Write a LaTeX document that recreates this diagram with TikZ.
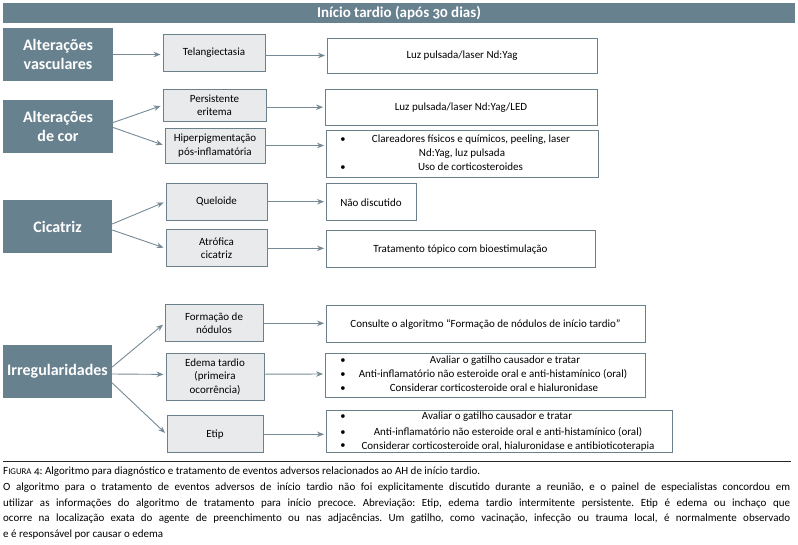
\documentclass[tikz,border=0pt]{standalone}
\usepackage{fontspec}
\setmainfont{Carlito}[Numbers=OldStyle]
\usetikzlibrary{arrows.meta}
\definecolor{slate}{RGB}{104,129,143}
\definecolor{midfill}{RGB}{233,234,236}
\definecolor{bord}{RGB}{108,128,140}
\definecolor{arr}{RGB}{118,138,150}
\frenchspacing
\begin{document}
\begin{tikzpicture}[x=1pt,y=-1pt,
  lbox/.style={fill=slate, text=white, font=\fontsize{16}{18.5}\selectfont\bfseries, align=center, inner sep=0},
  mbox/.style={draw=bord, fill=midfill, line width=0.9pt, font=\fontsize{11}{13.5}\selectfont, align=center, inner sep=0},
  rbox/.style={draw=bord, fill=white, line width=0.9pt, font=\fontsize{11}{13.5}\selectfont, align=center, inner sep=0},
  txt/.style={inner sep=0, font=\fontsize{11}{13.5}\selectfont, text height=7.5pt, text depth=2.2pt},
  bul/.style={inner sep=0, font=\fontsize{10.5}{11}\selectfont, text height=6.5pt, text depth=1pt},
  conn/.style={draw=arr, line width=0.9pt, -{Stealth[length=7pt,width=5.5pt]}, shorten >=2pt},
  capline/.style={anchor=base west, inner sep=0, font=\fontsize{11}{15.8}\selectfont\frenchspacing}
]
\useasboundingbox (0,0) rectangle (798,544);

\node[fill=slate, minimum width=792pt, minimum height=20pt, text=white, inner sep=0,
  font=\fontsize{15}{16}\selectfont\bfseries] (hdr) at (399,13) {Início tardio (após 30 dias)};

% left boxes
\node[lbox, minimum width=110pt, minimum height=53pt] (av) at (58,54.5) {Alterações\\vasculares};
\node[lbox, minimum width=110pt, minimum height=53pt] (ac) at (58,126.5) {Alterações\\de cor};
\node[lbox, minimum width=109pt, minimum height=53pt] (ci) at (57.5,226.5) {Cicatriz};
\node[lbox, minimum width=109pt, minimum height=53pt] (ir) at (57.5,371.5) {Irregularidades};

% middle boxes
\node[mbox, minimum width=102pt, minimum height=37pt] (tel) at (214,52.5) {Telangiectasia};
\node[mbox, minimum width=103pt, minimum height=32pt] (pe) at (214.5,105.3) {Persistente\\eritema};
\node[mbox, minimum width=100pt, minimum height=35pt] (hp) at (215,145.5) {Hiperpigmentação\\pós-inflamatória};
\node[mbox, minimum width=101pt, minimum height=37pt] (qu) at (216.5,201.7) {Queloide};
\node[mbox, minimum width=101pt, minimum height=37pt] (atr) at (216.5,248.3) {Atrófica\\cicatriz};
\node[mbox, minimum width=98pt, minimum height=37pt] (fn) at (214,323.3) {Formação de\\nódulos};
\node[mbox, minimum width=98pt, minimum height=47pt] (ed) at (215,376.7) {Edema tardio\\(primeira\\ocorrência)};
\node[mbox, minimum width=96pt, minimum height=37pt] (et) at (215,434.3) {Etip};

% right boxes
\node[rbox, minimum width=270pt, minimum height=35pt] (lp) at (462,55.5) {Luz pulsada/laser Nd:Yag};
\node[rbox, minimum width=272pt, minimum height=36pt] (lpl) at (461,107.2) {Luz pulsada/laser Nd:Yag/LED};
\node[rbox, minimum width=272pt, minimum height=47pt] (cl) at (462,153.7) {};
\node[rbox, minimum width=90pt, minimum height=37pt] (nd) at (371,202.3) {Não discutido};
\node[rbox, minimum width=269pt, minimum height=37pt] (tt) at (460.5,249.3) {Tratamento tópico com bioestimulação};
\node[rbox, minimum width=319pt, minimum height=37.5pt] (co) at (485.5,324) {Consulte o algoritmo “Formação de nódulos de início tardio”};
\node[rbox, minimum width=320pt, minimum height=44.5pt] (el) at (485,375.5) {};
\node[rbox, minimum width=346pt, minimum height=42.7pt] (tl) at (499,431.3) {};

% list contents
\node[bul] (clb1) at (343,140) {•};
\node[bul] (clb2) at (343,168) {•};
\node[txt] (cl1) at (471,140) {Clareadores físicos e químicos, peeling, laser};
\node[txt] (cl2) at (462,154) {Nd:Yag, luz pulsada};
\node[txt] (cl3) at (470.5,168) {Uso de corticosteroides};

\node[bul] (elb1) at (343,361) {•};
\node[bul] (elb2) at (343,375) {•};
\node[bul] (elb3) at (343,389) {•};
\node[txt] (el1) at (505,361) {Avaliar o gatilho causador e tratar};
\node[txt] (el2) at (493,375) {Anti-inflamatório não esteroide oral e anti-histamínico (oral)};
\node[txt] (el3) at (494,389) {Considerar corticosteroide oral e hialuronidase};

\node[bul] (tlb1) at (343,417) {•};
\node[bul] (tlb2) at (343,433) {•};
\node[bul] (tlb3) at (343,446) {•};
\node[txt] (tl1) at (497,417) {Avaliar o gatilho causador e tratar};
\node[txt] (tl2) at (508,433) {Anti-inflamatório não esteroide oral e anti-histamínico (oral)};
\node[txt] (tl3) at (508,447) {Considerar corticosteroide oral, hialuronidase e antibioticoterapia};

% connectors left -> middle
\draw[conn] (av.east) -- (tel.west |- av.east);
\draw[conn] ([yshift=4pt]ac.east) -- (pe.west);
\draw[conn] ([yshift=-1pt]ac.east) -- (hp.west);
\draw[conn] ([yshift=2.5pt]ci.east) -- (qu.west);
\draw[conn] ([yshift=-3.5pt]ci.east) -- (atr.west);
\draw[conn] ([yshift=4.5pt]ir.east) -- (fn.west);
\draw[conn] ([yshift=-2.5pt]ir.east) -- ([yshift=2.3pt]ed.west);
\draw[conn] ([yshift=-11.5pt]ir.east) -- (et.west);

% connectors middle -> right
\draw[conn, shorten >=1.5pt] ([yshift=-3pt]tel.east) -- (lp.west);
\draw[conn, shorten >=1.5pt] (pe.east |- lpl.west) -- (lpl.west);
\draw[conn, shorten >=1.5pt] (hp.east) -- (cl.west |- hp.east);
\draw[conn, shorten >=1.5pt] (qu.east) -- (nd.west |- qu.east);
\draw[conn, shorten >=1.5pt] (atr.east) -- (tt.west |- atr.east);
\draw[conn, shorten >=1.5pt] (fn.east) -- (co.west |- fn.east);
\draw[conn, shorten >=1.5pt] ([yshift=2.5pt]ed.east) -- ([yshift=1.5pt]el.west);
\draw[conn, shorten >=1.5pt] (et.east) -- (tl.west |- et.east);

% caption
\coordinate (rl) at (3,461);
\coordinate (rr) at (791,461);
\draw[line width=1pt, black!85] (rl) -- (rr);
\node[capline] (c1) at (3,474) {F{\fontsize{8.8}{10}\selectfont IGURA} 4: Algoritmo para diagnóstico e tratamento de eventos adversos relacionados ao AH de início tardio.};
\node[capline] (c2) at (3,490) {\hbox to 787pt{O algoritmo para o tratamento de eventos adversos de início tardio não foi explicitamente discutido durante a reunião, e o painel de especialistas concordou em}};
\node[capline] (c3) at (3,506) {\hbox to 787pt{utilizar as informações do algoritmo de tratamento para início precoce. Abreviação: Etip, edema tardio intermitente persistente. Etip é edema ou inchaço que}};
\node[capline] (c4) at (3,521.5) {\hbox to 787pt{ocorre na localização exata do agente de preenchimento ou nas adjacências. Um gatilho, como vacinação, infecção ou trauma local, é normalmente observado}};
\node[capline] (c5) at (3,537) {e é responsável por causar o edema};
\end{tikzpicture}
\end{document}
